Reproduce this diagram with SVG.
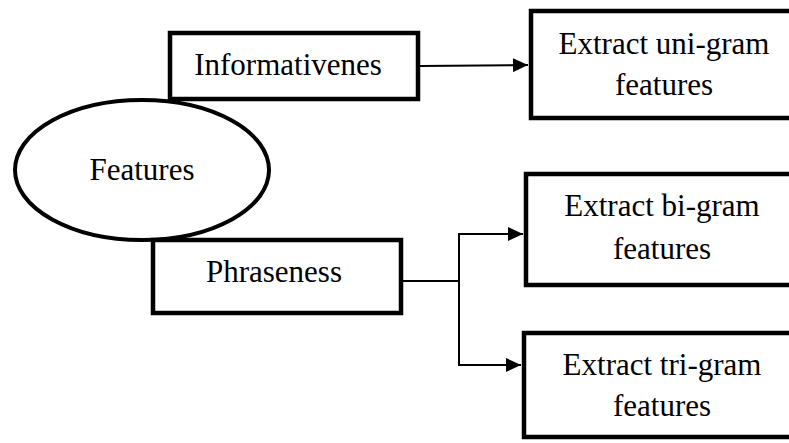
<svg xmlns="http://www.w3.org/2000/svg" width="789" height="443" viewBox="0 0 789 443">
  <style>
    .box { fill: #ffffff; stroke: #000000; stroke-width: 4.5; }
    .oval { fill: #ffffff; stroke: #000000; stroke-width: 4; }
    .label { font-family: "Liberation Serif", "Times New Roman", serif; font-size: 31px; fill: #000000; text-anchor: middle; }
    .wire { fill: none; stroke: #000000; stroke-width: 2; }
  </style>
  <defs>
    <marker id="arrow" markerUnits="userSpaceOnUse" markerWidth="16" markerHeight="14" refX="15" refY="7" orient="auto">
      <path d="M0,0 L15,7 L0,14 Z" fill="#000000"/>
    </marker>
  </defs>

  <g id="features">
    <ellipse class="oval" cx="142" cy="170" rx="127" ry="70"/>
    <text class="label" x="142" y="180">Features</text>
  </g>

  <g id="informativenes">
    <rect class="box" x="170" y="33" width="248" height="66"/>
    <text class="label" x="288" y="75">Informativenes</text>
  </g>

  <g id="phraseness">
    <rect class="box" x="153" y="240" width="248" height="73"/>
    <text class="label" x="274" y="282">Phraseness</text>
  </g>

  <g id="unigram">
    <rect class="box" x="531" y="11" width="280" height="107"/>
    <text class="label" x="664" y="54">Extract uni-gram</text>
    <text class="label" x="664" y="95">features</text>
  </g>

  <g id="bigram">
    <rect class="box" x="526" y="174" width="280" height="111"/>
    <text class="label" x="662" y="216">Extract bi-gram</text>
    <text class="label" x="662" y="259">features</text>
  </g>

  <g id="trigram">
    <rect class="box" x="524" y="333" width="280" height="104"/>
    <text class="label" x="662" y="375">Extract tri-gram</text>
    <text class="label" x="662" y="416">features</text>
  </g>

  <g id="connectors">
    <line class="wire" x1="420" y1="66" x2="528" y2="65" marker-end="url(#arrow)"/>
    <path class="wire" d="M401,281 H459"/>
    <path class="wire" d="M459,281 V234 H523" marker-end="url(#arrow)"/>
    <path class="wire" d="M459,281 V365 H521" marker-end="url(#arrow)"/>
  </g>
</svg>
